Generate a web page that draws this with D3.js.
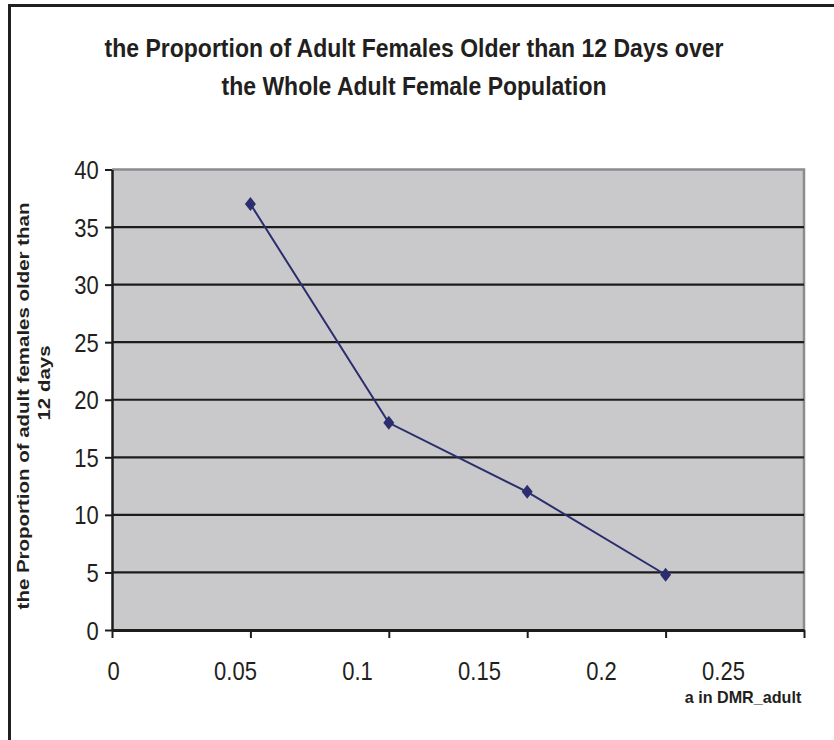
<!DOCTYPE html>
<html>
<head>
<meta charset="utf-8">
<script src="https://cdn.jsdelivr.net/npm/d3@7"></script>
<style>
  html, body { margin: 0; padding: 0; background: #fff; }
  svg { display: block; font-family: "Liberation Sans", Arial, sans-serif; }
</style>
</head>
<body>
<svg id="chart" width="834" height="740"></svg>
<script>
// Series: parameter a in DMR_adult vs. proportion of adult females older than 12 days
const aValues = [0.05, 0.1, 0.15, 0.2];
const proportions = [37, 18, 12, 4.8];
const xTicks = [0, 0.05, 0.1, 0.15, 0.2, 0.25];
const yTicks = [0, 5, 10, 15, 20, 25, 30, 35, 40];
const titleLines = ["the Proportion of Adult Females Older than 12 Days over", "the Whole Adult Female Population"];
const yTitleLines = ["the Proportion of adult females older than", "12 days"];
const xTitle = "a in DMR_adult";

const svg = d3.select("#chart");
const plot = { left: 112, right: 804, top: 169.5, bottom: 630 };

const x = d3.scaleLinear().domain([0, 0.25]).range([plot.left, plot.right]);
// tick labels sit on a slightly tighter spacing than the tick marks
const xLabel = d3.scaleLinear().domain([0, 0.25]).range([113, 723]);
const y = d3.scaleLinear().domain([0, 40]).range([plot.bottom, plot.top]);

// outer frame (left and top edges)
svg.append("path")
  .attr("d", `M9.5,740 V5.5 H834`)
  .attr("fill", "none").attr("stroke", "#231f20").attr("stroke-width", 3);

// plot background
svg.append("rect")
  .attr("x", plot.left).attr("y", plot.top)
  .attr("width", plot.right - plot.left).attr("height", plot.bottom - plot.top)
  .attr("fill", "#c9c9cb");

// top and right plot border
svg.append("path")
  .attr("d", `M${plot.left},${plot.top} H${plot.right} V${plot.bottom}`)
  .attr("fill", "none").attr("stroke", "#8c8c8e").attr("stroke-width", 2.5);

// horizontal gridlines
svg.append("g").selectAll("line")
  .data(yTicks.filter(v => v > 0 && v < 40))
  .join("line")
  .attr("x1", plot.left).attr("x2", plot.right)
  .attr("y1", d => y(d)).attr("y2", d => y(d))
  .attr("stroke", "#1c1c1c").attr("stroke-width", 2.2);

// y axis
const yAxis = svg.append("g")
  .attr("transform", `translate(${plot.left},0)`)
  .call(d3.axisLeft(y).tickValues(yTicks).tickSize(7).tickPadding(8).tickSizeOuter(0));
yAxis.select(".domain").attr("stroke", "#1c1c1c").attr("stroke-width", 2.5);
yAxis.selectAll(".tick line").attr("stroke", "#1c1c1c").attr("stroke-width", 2);
yAxis.selectAll(".tick text")
  .attr("font-family", "Liberation Sans, Arial, sans-serif")
  .attr("font-size", 25).attr("fill", "#231f20")
  .attr("dy", "0.36em")
  .attr("transform", "scale(0.88,1)");

// x axis: tick marks
const xAxis = svg.append("g")
  .attr("transform", `translate(0,${plot.bottom})`)
  .call(d3.axisBottom(x).tickValues(xTicks).tickSize(8).tickFormat("").tickSizeOuter(0));
xAxis.select(".domain").attr("stroke", "#1c1c1c").attr("stroke-width", 3);
xAxis.selectAll(".tick line").attr("stroke", "#1c1c1c").attr("stroke-width", 2);

// x axis: labels
const xLabels = svg.append("g")
  .attr("transform", `translate(0,${plot.bottom})`)
  .call(d3.axisBottom(xLabel).tickValues(xTicks).tickSize(0).tickPadding(32).tickFormat(d3.format("")));
xLabels.select(".domain").remove();
xLabels.selectAll(".tick text")
  .attr("font-family", "Liberation Sans, Arial, sans-serif")
  .attr("font-size", 25).attr("fill", "#231f20")
  .attr("transform", "scale(0.88,1)");

// series line
const pts = aValues.map((a, i) => [a, proportions[i]]);
svg.append("path")
  .datum(pts)
  .attr("d", d3.line().x(d => x(d[0])).y(d => y(d[1])))
  .attr("fill", "none").attr("stroke", "#2b2d6e").attr("stroke-width", 2);

// diamond markers
svg.append("g").selectAll("path")
  .data(pts)
  .join("path")
  .attr("transform", d => `translate(${x(d[0])},${y(d[1])})`)
  .attr("d", "M0,-7 L5.5,0 L0,7 L-5.5,0 Z")
  .attr("fill", "#2b2d6e");

// chart title
svg.append("g").selectAll("text")
  .data(titleLines)
  .join("text")
  .attr("x", 0).attr("y", 0)
  .attr("transform", (d, i) => `translate(414,${57 + i * 38}) scale(0.92,1)`)
  .attr("text-anchor", "middle")
  .attr("font-size", 25).attr("font-weight", "bold").attr("fill", "#231f20")
  .text(d => d);

// y axis title (stretched along its length)
svg.append("g").selectAll("text")
  .data(yTitleLines)
  .join("text")
  .attr("transform", (d, i) => `translate(${29 + i * 21},${i === 0 ? 406 : 383}) rotate(-90) scale(1.24,1)`)
  .attr("text-anchor", "middle")
  .attr("font-size", 16.5).attr("font-weight", "bold").attr("fill", "#231f20")
  .text(d => d);

// x axis title
svg.append("text")
  .attr("transform", "translate(743,703) scale(0.95,1)")
  .attr("text-anchor", "middle")
  .attr("font-size", 17).attr("font-weight", "bold").attr("fill", "#231f20")
  .text(xTitle);
</script>
</body>
</html>
